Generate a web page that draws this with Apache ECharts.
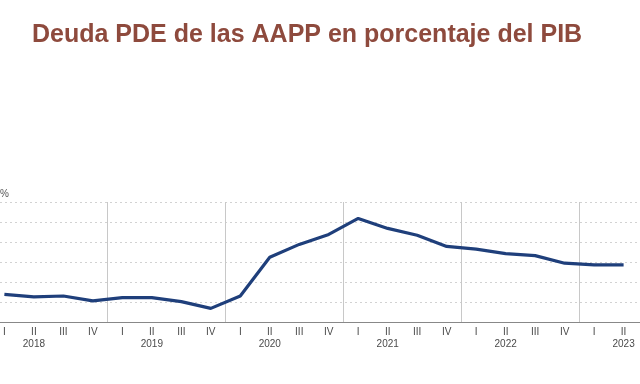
<!DOCTYPE html>
<html>
<head>
<meta charset="utf-8">
<script src="https://cdn.jsdelivr.net/npm/echarts@6/dist/echarts.min.js"></script>
<style>html,body{margin:0;padding:0;background:#fff;}#c{width:640px;height:384px;}</style>
</head>
<body>
<div id="c"></div>
<script>
const titleText = 'Deuda PDE de las AAPP en porcentaje del PIB';
const categories = ['2018 I','2018 II','2018 III','2018 IV','2019 I','2019 II','2019 III','2019 IV','2020 I','2020 II','2020 III','2020 IV','2021 I','2021 II','2021 III','2021 IV','2022 I','2022 II','2022 III','2022 IV','2023 I','2023 II'];
const debt = [96.9, 96.3, 96.5, 95.3, 96.1, 96.1, 95.1, 93.4, 96.5, 106.2, 109.4, 111.9, 115.9, 113.4, 111.7, 108.9, 108.2, 107.1, 106.6, 104.7, 104.3, 104.3];
const yearBreaks = [3.5, 7.5, 11.5, 15.5, 19.5];
const yMin = 90, yMax = 120, yStep = 5;

const chart = echarts.init(document.getElementById('c'), null, {renderer: 'canvas'});
const gridTop = 202, gridBottom = 62;
const ff = 'Liberation Sans, Arial, sans-serif';
chart.setOption({
  animation: false,
  backgroundColor: '#fff',
  title: {
    text: titleText,
    left: 27, top: 18,
    textStyle: {fontFamily: ff, fontSize: 25, fontWeight: 'bold', color: '#8e4a3d'}
  },
  graphic: [{
    type: 'text', left: 0, top: 189,
    style: {text: '%', fontSize: 10, fill: '#555', fontFamily: ff}
  }],
  grid: [
    {left: 0, right: 0, top: gridTop, bottom: gridBottom},
    {left: 2, right: 16.4, top: gridTop, bottom: gridBottom}
  ],
  xAxis: [
    {gridIndex: 0, type: 'value', min: 0, max: 1, axisLabel: {show: false}, axisTick: {show: false}, splitLine: {show: false},
     axisLine: {show: true, lineStyle: {color: '#888', width: 1}}},
    {gridIndex: 1, type: 'value', min: 0, max: categories.length - 1, interval: 1,
     axisLine: {show: false}, axisTick: {show: false}, splitLine: {show: false},
     axisLabel: {
       show: true, margin: 4, color: '#4a4a4a', fontSize: 10, lineHeight: 12,
       fontFamily: ff,
       formatter: function (v) {
         const i = Math.round(v);
         if (i < 0 || i >= categories.length) return '';
         const parts = categories[i].split(' ');
         return parts[1] === 'II' ? parts[1] + '\n' + parts[0] : parts[1];
       }
     }}
  ],
  yAxis: [
    {gridIndex: 0, type: 'value', min: yMin, max: yMax, interval: yStep, axisLabel: {show: false}, axisLine: {show: false}, axisTick: {show: false},
     splitLine: {show: true, lineStyle: {color: '#d2d2d2', type: [2, 3], width: 1}}},
    {gridIndex: 1, type: 'value', min: yMin, max: yMax, interval: yStep, show: false, splitLine: {show: false}}
  ],
  series: [{
    type: 'line', xAxisIndex: 1, yAxisIndex: 1,
    data: debt.map((v, i) => [i, v]),
    symbol: 'none',
    lineStyle: {color: '#1f3f7b', width: 3.2},
    markLine: {
      silent: true, symbol: 'none', label: {show: false},
      lineStyle: {color: '#c8c8c8', type: 'solid', width: 1},
      data: yearBreaks.map(x => ({xAxis: x}))
    },
    z: 5
  }]
});
</script>
</body>
</html>
